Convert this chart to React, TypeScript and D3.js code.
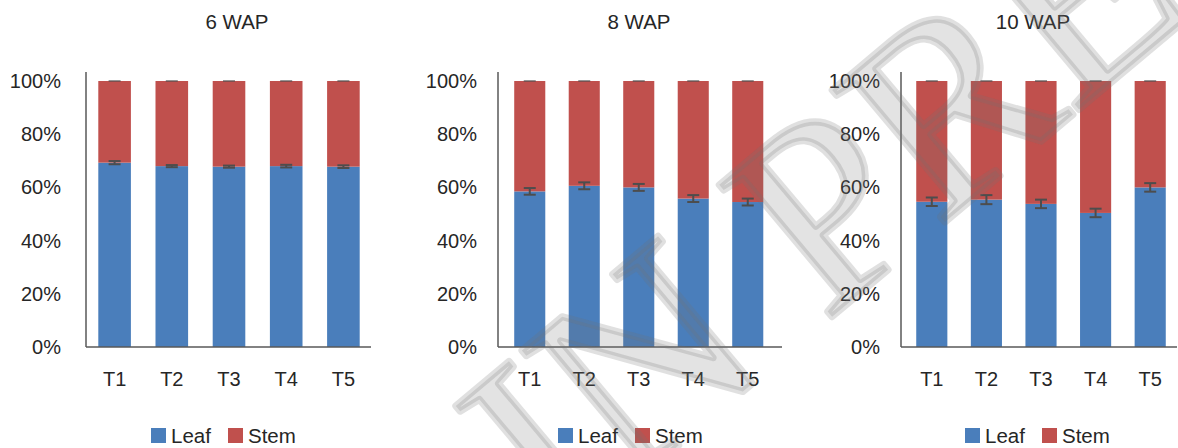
import React from 'react';
import * as d3 from 'd3';

const categories = ['T1', 'T2', 'T3', 'T4', 'T5'];
const titles = ['6 WAP', '8 WAP', '10 WAP'];
const seriesNames = ['Leaf', 'Stem'];

// leaf share (%) per treatment, stem is the remainder
const leaf6 = [69.3, 68.0, 67.8, 68.0, 67.8];
const leaf8 = [58.5, 60.6, 60.0, 55.8, 54.5];
const leaf10 = [54.6, 55.4, 53.8, 50.4, 60.0];

// error bar half-width (%)
const err6 = [0.6, 0.4, 0.4, 0.5, 0.5];
const err8 = [1.25, 1.3, 1.3, 1.3, 1.3];
const err10 = [1.6, 1.7, 1.6, 1.6, 1.6];

const yTicks = [0, 20, 40, 60, 80, 100];

const leafData = [leaf6, leaf8, leaf10];
const errData = [err6, err8, err10];

const W = 1178;
const H = 448;
const FONT = 'Liberation Sans, Arial, sans-serif';
const TEXT = '#262626';
const AXIS = '#595959';
const colors = ['#4A7EBB', '#C0504D'];

// per-panel layout
const layout = [
  { axis: [86, 371], band: [86, 372], labelX: 61, titleX: 237, legendX: 151 },
  { axis: [498, 782], band: [502.5, 775], labelX: 477, titleX: 639, legendX: 558 },
  { axis: [901, 1177], band: [904.5, 1177.5], labelX: 880, titleX: 1033, legendX: 965 },
];

const y = d3.scaleLinear().domain([0, 100]).range([347, 81]);

const Panel = ({ i }: { i: number }) => {
  const L = layout[i];
  const x = d3.scaleBand().domain(categories).range(L.band as [number, number]).paddingInner(0.43).paddingOuter(0.215);
  const stack = d3.stack<number>().keys([0, 1]).value((d, k) => (k === 0 ? d : 100 - d));
  const series = stack(leafData[i]);
  const bw = x.bandwidth();
  return (
    <g>
      <text x={L.titleX} y={29} textAnchor="middle" fontSize={20.5} fill={TEXT} fontFamily={FONT}>{titles[i]}</text>
      {series.map((s, si) => (
        <g key={si}>
          {s.map((d, ci) => (
            <rect key={ci} x={x(categories[ci])} y={y(d[1])} width={bw} height={y(d[0]) - y(d[1])} fill={colors[si]} />
          ))}
        </g>
      ))}
      {leafData[i].map((v, ci) => {
        const cx = (x(categories[ci]) as number) + bw / 2;
        const e = errData[i][ci];
        return (
          <g key={ci} stroke="#4D4D4D" strokeWidth={2}>
            <line x1={cx} x2={cx} y1={y(v + e)} y2={y(v - e)} />
            <line x1={cx - 6} x2={cx + 6} y1={y(v + e)} y2={y(v + e)} />
            <line x1={cx - 6} x2={cx + 6} y1={y(v - e)} y2={y(v - e)} />
            <line x1={cx - 6} x2={cx + 6} y1={y(100)} y2={y(100)} strokeWidth={1.2} />
          </g>
        );
      })}
      <line x1={L.axis[0]} x2={L.axis[0]} y1={72} y2={347} stroke={AXIS} strokeWidth={1.5} />
      <line x1={L.axis[0]} x2={L.axis[1]} y1={347} y2={347} stroke={AXIS} strokeWidth={1.5} />
      {yTicks.map(t => (
        <text key={t} x={L.labelX} y={y(t)} dy="0.35em" textAnchor="end" fontSize={20} fill={TEXT} fontFamily={FONT}>{t}%</text>
      ))}
      {categories.map(c => (
        <text key={c} x={(x(c) as number) + bw / 2} y={386} textAnchor="middle" fontSize={20} fill={TEXT} fontFamily={FONT}>{c}</text>
      ))}
      {seriesNames.map((n, si) => (
        <g key={n} transform={`translate(${L.legendX + si * 77},0)`}>
          <rect x={0} y={428} width={15} height={15} fill={colors[si]} />
          <text x={20} y={443} fontSize={20.5} fill={TEXT} fontFamily={FONT}>{n}</text>
        </g>
      ))}
    </g>
  );
};

export default function App() {
  return (
    <svg width={W} height={H} style={{ display: 'block', position: 'absolute', left: 0, top: 0 }}>
      <rect width={W} height={H} fill="#fff" />
      {titles.map((_, i) => <Panel key={i} i={i} />)}
      {/* "IN PRESS" watermark */}
      <text
        x={0}
        y={0}
        transform="translate(560,545) rotate(-40)"
        fontSize={265}
        fontFamily="Liberation Serif, Times New Roman, serif"
        fill="rgba(115,115,115,0.2)"
        stroke="rgba(115,115,115,0.22)"
        strokeWidth={7}
        strokeLinejoin="round"
      >IN PRESS</text>
    </svg>
  );
}
